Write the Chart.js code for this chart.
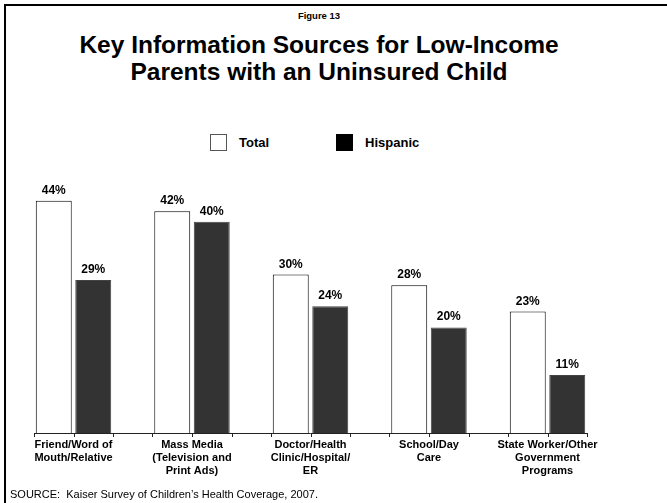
<!DOCTYPE html>
<html>
<head>
<meta charset="utf-8">
<script src="https://cdn.jsdelivr.net/npm/chart.js@4.4.0/dist/chart.umd.min.js"></script>
<style>
  html, body { margin: 0; padding: 0; background: #fff; }
  #page { position: relative; width: 667px; height: 503px; overflow: hidden; font-family: "Liberation Sans", Arial, sans-serif; color: #000; }
  #frame { position: absolute; left: 4px; top: 4px; right: -10px; bottom: -10px; border-top: 2px solid #000; border-left: 2px solid #000; }
  #fig { position: absolute; left: 0; width: 638px; top: 10px; text-align: center; font-weight: bold; font-size: 9.5px; line-height: 12px; }
  #title { position: absolute; left: 0; width: 638px; top: 31px; text-align: center; font-weight: bold; font-size: 24.5px; line-height: 27px; }
  #legend { position: absolute; left: 210px; top: 134px; display: flex; gap: 67px; }
  .item { display: flex; align-items: center; font-weight: bold; font-size: 13px; }
  .swatch { width: 15px; height: 15px; margin-right: 12px; }
  #source { position: absolute; left: 10px; top: 488px; font-size: 11px; line-height: 13px; }
  #chart { position: absolute; left: 0; top: 0; }
</style>
</head>
<body>
<div id="page">
  <div id="frame"></div>
  <div id="fig">Figure 13</div>
  <div id="title">Key Information Sources for Low-Income<br>Parents with an Uninsured Child</div>
  <div id="legend"></div>
  <canvas id="chart" width="667" height="503"></canvas>
  <div id="source">SOURCE:&nbsp; Kaiser Survey of Children’s Health Coverage, 2007.</div>
</div>
<script>
// data (percent)
const categories = [
    ['Friend/Word of', 'Mouth/Relative'],
    ['Mass Media', '(Television and', 'Print Ads)'],
    ['Doctor/Health', 'Clinic/Hospital/', 'ER'],
    ['School/Day', 'Care'],
    ['State Worker/Other', 'Government', 'Programs']
];
const seriesNames = ['Total', 'Hispanic'];
const totalValues = [44, 42, 30, 28, 23];
const hispanicValues = [29, 40, 24, 20, 11];
const yMax = 50;

// value labels above every bar
const barLabels = {
    id: 'barLabels',
    afterDatasetsDraw(chart) {
        const ctx = chart.ctx;
        ctx.save();
        ctx.font = 'bold 12px "Liberation Sans", Arial, sans-serif';
        ctx.fillStyle = '#000';
        ctx.textAlign = 'center';
        ctx.textBaseline = 'alphabetic';
        chart.data.datasets.forEach((ds, i) => {
            chart.getDatasetMeta(i).data.forEach((bar, j) => {
                ctx.fillText(ds.data[j] + '%', bar.x, bar.y - 7);
            });
        });
        ctx.restore();
    }
};

// baseline with a tick at every bar edge, like the original
const slotAxis = {
    id: 'slotAxis',
    afterDatasetsDraw(chart) {
        const ctx = chart.ctx;
        const y0 = chart.scales.y.getPixelForValue(0);
        const a = chart.getDatasetMeta(0).data;
        const b = chart.getDatasetMeta(1).data;
        const ticks = [];
        a.forEach((bar, i) => {
            const slot = b[i].x - bar.x;
            ticks.push(bar.x - slot / 2, bar.x + slot / 2, b[i].x + slot / 2);
        });
        ctx.save();
        ctx.strokeStyle = '#222';
        ctx.lineWidth = 1;
        ctx.beginPath();
        ctx.moveTo(ticks[0], y0 + 0.5);
        ctx.lineTo(ticks[ticks.length - 1], y0 + 0.5);
        ticks.forEach(t => {
            const px = Math.round(t) + 0.5;
            ctx.moveTo(px, y0);
            ctx.lineTo(px, y0 + 4);
        });
        ctx.stroke();
        ctx.restore();
    }
};

const chart = new Chart(document.getElementById('chart'), {
    type: 'bar',
    data: {
        labels: categories,
        datasets: [
            {
                label: seriesNames[0],
                data: totalValues,
                backgroundColor: '#ffffff',
                borderColor: '#000000',
                borderWidth: 1,
                borderSkipped: 'bottom'
            },
            {
                label: seriesNames[1],
                data: hispanicValues,
                backgroundColor: '#333333',
                borderColor: '#444444',
                borderWidth: 1,
                borderSkipped: 'bottom'
            }
        ]
    },
    options: {
        responsive: false,
        animation: false,
        layout: { padding: { left: 14.25, right: 60.25, top: 169, bottom: 0 } },
        datasets: { bar: { categoryPercentage: 0.6667, barPercentage: 0.91 } },
        scales: {
            x: {
                grid: { display: false, drawTicks: false },
                border: { display: false },
                ticks: {
                    color: '#000',
                    padding: 6,
                    maxRotation: 0,
                    autoSkip: false,
                    font: { family: '"Liberation Sans", Arial, sans-serif', size: 11, weight: 'bold', lineHeight: 1.15 }
                },
                afterFit(scale) { scale.height = 70; }
            },
            y: {
                display: false,
                min: 0,
                max: yMax
            }
        },
        plugins: {
            legend: { display: false },
            title: { display: false },
            tooltip: { enabled: false }
        }
    },
    plugins: [barLabels, slotAxis]
});

// legend built from the chart's datasets
const legendEl = document.getElementById('legend');
chart.data.datasets.forEach((ds, i) => {
    const item = document.createElement('div');
    item.className = 'item';
    const sw = document.createElement('span');
    sw.className = 'swatch';
    sw.style.background = i === 0 ? '#fff' : '#000';
    sw.style.border = '1px solid ' + (i === 0 ? '#555' : '#000');
    item.appendChild(sw);
    item.appendChild(document.createTextNode(ds.label));
    legendEl.appendChild(item);
});
</script>
</body>
</html>
